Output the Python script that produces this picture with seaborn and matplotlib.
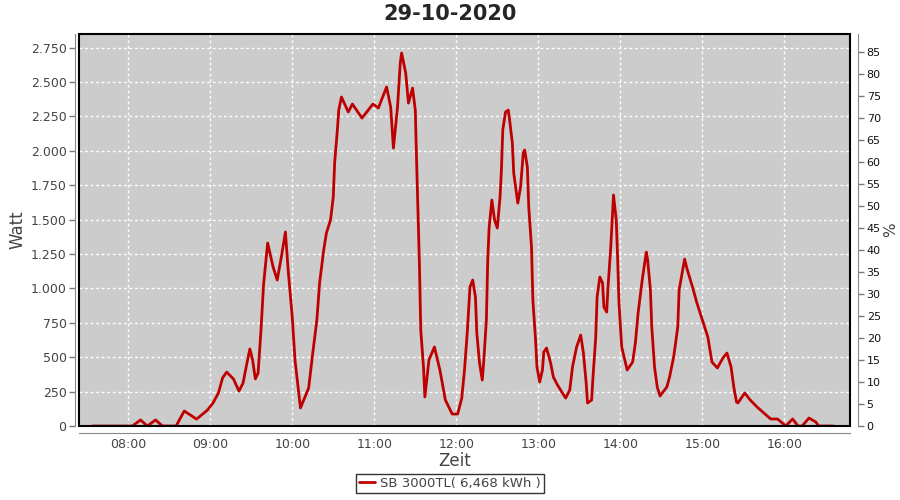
import matplotlib
matplotlib.use("Agg")
import matplotlib.pyplot as plt
import matplotlib.dates as mdates
from matplotlib.patches import Rectangle
from matplotlib.ticker import FuncFormatter
import pandas as pd
import seaborn as sns

day = "2020-10-29"
title = "29-10-2020"
series_name = "SB 3000TL( 6,468 kWh )"

times = [
    "07:34", "07:58", "08:03", "08:09", "08:14", "08:20", "08:25", "08:35", "08:41", "08:50",
    "08:58", "09:02", "09:06", "09:09", "09:12", "09:17", "09:21", "09:24", "09:27", "09:29",
    "09:31", "09:33", "09:35", "09:37", "09:39", "09:42", "09:46", "09:49", "09:52", "09:55",
    "09:57", "10:00", "10:02", "10:06", "10:12", "10:15", "10:18", "10:20", "10:23", "10:25",
    "10:28", "10:30", "10:31", "10:33", "10:34", "10:36", "10:41", "10:44", "10:51", "10:59",
    "11:03", "11:09", "11:12", "11:14", "11:17", "11:19", "11:20", "11:23", "11:25", "11:28",
    "11:30", "11:31", "11:33", "11:34", "11:36", "11:37", "11:40", "11:44", "11:48", "11:52",
    "11:57", "12:01", "12:04", "12:06", "12:08", "12:10", "12:12", "12:14", "12:15", "12:17",
    "12:19", "12:20", "12:22", "12:23", "12:24", "12:26", "12:27", "12:28", "12:30", "12:32",
    "12:33", "12:34", "12:36", "12:38", "12:39", "12:41", "12:42", "12:44", "12:45", "12:47",
    "12:49", "12:50", "12:52", "12:53", "12:55", "12:56", "12:58", "12:59", "13:01", "13:03",
    "13:04", "13:06", "13:09", "13:11", "13:14", "13:20", "13:23", "13:25", "13:28", "13:31",
    "13:33", "13:35", "13:36", "13:39", "13:40", "13:42", "13:43", "13:45", "13:47", "13:48",
    "13:50", "13:51", "13:53", "13:54", "13:55", "13:57", "13:58", "13:59", "14:01", "14:05",
    "14:09", "14:11", "14:13", "14:16", "14:19", "14:20", "14:22", "14:23", "14:25", "14:27",
    "14:29", "14:34", "14:36", "14:39", "14:42", "14:43", "14:47", "14:49", "14:53", "14:56",
    "15:00", "15:04", "15:07", "15:11", "15:15", "15:18", "15:21", "15:23", "15:25", "15:26",
    "15:31", "15:35", "15:40", "15:45", "15:50", "15:55", "16:01", "16:06", "16:10", "16:13",
    "16:18", "16:23", "16:25", "16:36",
]
watt = [
    0, 0, 0, 44, 0, 44, 0, 0, 109, 50,
    116, 167, 240, 349, 392, 342, 254, 312, 465, 560,
    480, 342, 385, 676, 1025, 1330, 1155, 1061, 1228, 1410,
    1134, 792, 480, 131, 276, 530, 770, 1039, 1279, 1403,
    1497, 1664, 1911, 2151, 2296, 2391, 2282, 2340, 2238, 2340,
    2311, 2464, 2318, 2020, 2318, 2638, 2711, 2565, 2347, 2456,
    2296, 1911, 1185, 698, 429, 211, 480, 574, 407, 189,
    87, 87, 203, 407, 676, 1010, 1061, 938, 676, 458,
    334, 458, 770, 1206, 1439, 1642, 1570, 1497, 1439, 1664,
    1860, 2151, 2282, 2296, 2224, 2057, 1838, 1693, 1620, 1737,
    1984, 2006, 1882, 1591, 1301, 916, 625, 429, 320, 407,
    538, 567, 458, 356, 298, 203, 262, 429, 574, 661,
    530, 312, 167, 189, 356, 647, 938, 1083, 1039, 865,
    828, 1010, 1301, 1497, 1679, 1497, 1228, 894, 574, 407,
    465, 603, 821, 1061, 1264, 1206, 988, 719, 429, 283,
    218, 283, 356, 501, 719, 988, 1213, 1134, 1003, 894,
    770, 647, 465, 422, 494, 530, 429, 283, 174, 167,
    240, 189, 138, 94, 51, 51, 0, 51, 0, 0,
    58, 29, 0, 0,
]

watt_ticks = list(range(0, 2751, 250))
pct_ticks = list(range(0, 86, 5))
watt_per_pct = 32  # 100 % = 3200 W

df = pd.DataFrame({"Zeit": pd.to_datetime([f"{day} {t}" for t in times]), "Watt": watt})

sns.set_style("white")
plt.rcParams["font.family"] = ["DejaVu Sans"]

grey = "#444444"
fig = plt.figure(figsize=(9, 5), dpi=100)
ax = fig.add_axes([79 / 900, 74 / 500, 771 / 900, 392 / 500])
ax.set_facecolor("#cccccc")

sns.lineplot(data=df, x="Zeit", y="Watt", ax=ax, color="#bf0000", linewidth=2,
             label=series_name)

x0 = pd.Timestamp(f"{day} 07:24")
x1 = pd.Timestamp(f"{day} 16:48")
ax.set_xlim(x0, x1)
ymax = 2849
ax.set_ylim(0, ymax)
ax.set_yticks(watt_ticks)
ax.yaxis.set_major_formatter(FuncFormatter(lambda v, p: f"{int(v):,}".replace(",", ".")))
ax.xaxis.set_major_locator(mdates.HourLocator())
ax.xaxis.set_major_formatter(mdates.DateFormatter("%H:%M"))
ax.grid(True, color="white", linestyle=(0, (2, 2)), linewidth=1)

ax2 = ax.twinx()
ax2.set_ylim(0, ymax / watt_per_pct)
ax2.set_yticks(pct_ticks)
ax2.set_ylabel("%", fontsize=11, color=grey, labelpad=2)
ax2.grid(False)

for a in (ax, ax2):
    for s in a.spines.values():
        s.set_visible(False)
    a.tick_params(colors="#777777", labelcolor=grey, labelsize=9, length=4, width=1,
                  direction="out", pad=2)
ax2.tick_params(labelcolor="#111111", labelsize=8, pad=2)
ax.tick_params(axis="x", pad=0)

ax.spines["left"].set_visible(True)
ax.spines["left"].set_position(("outward", 3))
ax.spines["left"].set_color("#888888")
ax.spines["bottom"].set_visible(True)
ax.spines["bottom"].set_position(("outward", 5))
ax.spines["bottom"].set_color("#888888")
ax2.spines["right"].set_visible(True)
ax2.spines["right"].set_position(("outward", 6))
ax2.spines["right"].set_color("#888888")
ax.add_patch(Rectangle((0, 0), 1, 1, transform=ax.transAxes, fill=False,
                       edgecolor="black", linewidth=1.5, zorder=10, clip_on=False))

ax.set_xlabel("")
ax.set_ylabel("Watt", fontsize=12, color=grey, labelpad=3)
fig.text(0.505, 0.079, "Zeit", ha="center", va="center", fontsize=12, color=grey)
fig.text(0.5, 0.972, title, ha="center", va="center", fontsize=15, fontweight="bold")

ax.get_legend().remove()
fig.legend(loc="lower center", bbox_to_anchor=(0.5, 0.0), frameon=True, fancybox=False,
           edgecolor="black", fontsize=9.5, handlelength=1.2, handletextpad=0.4,
           borderpad=0.25, labelcolor=grey)

fig.savefig("out.png", dpi=100)
